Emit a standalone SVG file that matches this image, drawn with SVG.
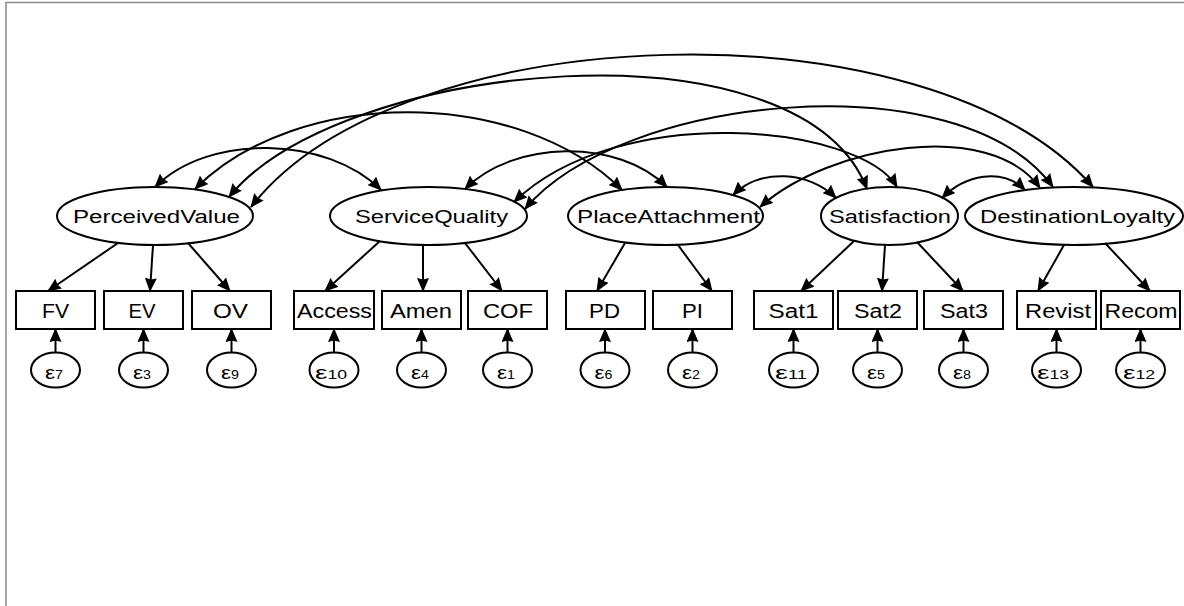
<svg xmlns="http://www.w3.org/2000/svg" width="1184" height="606" viewBox="0 0 1184 606">
  <style>
    .lat ellipse, .obs rect, .err ellipse { fill: #ffffff; stroke: #000000; stroke-width: 2; }
    .lbl { font-family: "Liberation Sans", Arial, sans-serif; fill: #000000; text-anchor: middle; }
    .lat text { font-size: 18px; }
    .obs text { font-size: 20px; }
    .err text { font-size: 19px; }
    .err tspan { font-size: 12px; }
    #connectors path { fill: none; stroke: #000000; stroke-width: 2; }
    .load { marker-end: url(#ah); }
    .cov { marker-start: url(#ah); marker-end: url(#ah); }
    .frame { stroke: #8a8a8a; stroke-width: 1.5; fill: none; }
  </style>
  <defs>
    <marker id="ah" viewBox="0 0 14 12" refX="13" refY="6" markerWidth="14" markerHeight="12" markerUnits="userSpaceOnUse" orient="auto-start-reverse">
      <path d="M0,0 L14,6 L0,12 L1.5,6 z" fill="#000000"/>
    </marker>
  </defs>

  <rect width="1184" height="606" fill="#ffffff"/>
  <path class="frame" d="M6,606 L6,2.5 L1184,2.5"/>

  <!-- latent variables -->
  <g id="PerceivedValue" class="lat">
    <ellipse cx="155" cy="216" rx="98" ry="29"/>
    <text class="lbl" x="156.5" y="223" textLength="167" lengthAdjust="spacingAndGlyphs">PerceivedValue</text>
  </g>
  <g id="ServiceQuality" class="lat">
    <ellipse cx="428.5" cy="216" rx="98.5" ry="29"/>
    <text class="lbl" x="431.5" y="223" textLength="153" lengthAdjust="spacingAndGlyphs">ServiceQuality</text>
  </g>
  <g id="PlaceAttachment" class="lat">
    <ellipse cx="665.5" cy="216" rx="97.5" ry="29"/>
    <text class="lbl" x="668.5" y="223" textLength="183" lengthAdjust="spacingAndGlyphs">PlaceAttachment</text>
  </g>
  <g id="Satisfaction" class="lat">
    <ellipse cx="889.5" cy="216" rx="68.5" ry="29"/>
    <text class="lbl" x="890" y="223" textLength="122" lengthAdjust="spacingAndGlyphs">Satisfaction</text>
  </g>
  <g id="DestinationLoyalty" class="lat">
    <ellipse cx="1074" cy="216" rx="109" ry="29"/>
    <text class="lbl" x="1077.5" y="223" textLength="195" lengthAdjust="spacingAndGlyphs">DestinationLoyalty</text>
  </g>

  <!-- observed indicators -->
  <g id="FV" class="obs"><rect x="16" y="291" width="79" height="38"/><text class="lbl" x="55.5" y="318" textLength="27" lengthAdjust="spacingAndGlyphs">FV</text></g>
  <g id="EV" class="obs"><rect x="104" y="291" width="79" height="38"/><text class="lbl" x="142" y="318" textLength="27" lengthAdjust="spacingAndGlyphs">EV</text></g>
  <g id="OV" class="obs"><rect x="192" y="291" width="79" height="38"/><text class="lbl" x="230.5" y="318" textLength="35" lengthAdjust="spacingAndGlyphs">OV</text></g>
  <g id="Access" class="obs"><rect x="294" y="291" width="80" height="38"/><text class="lbl" x="334.5" y="318" textLength="75" lengthAdjust="spacingAndGlyphs">Access</text></g>
  <g id="Amen" class="obs"><rect x="382" y="291" width="79" height="38"/><text class="lbl" x="421" y="318" textLength="62" lengthAdjust="spacingAndGlyphs">Amen</text></g>
  <g id="COF" class="obs"><rect x="468" y="291" width="79" height="38"/><text class="lbl" x="508" y="318" textLength="50" lengthAdjust="spacingAndGlyphs">COF</text></g>
  <g id="PD" class="obs"><rect x="566" y="291" width="79" height="38"/><text class="lbl" x="604.5" y="318" textLength="31" lengthAdjust="spacingAndGlyphs">PD</text></g>
  <g id="PI" class="obs"><rect x="653" y="291" width="79" height="38"/><text class="lbl" x="692.5" y="318" textLength="21" lengthAdjust="spacingAndGlyphs">PI</text></g>
  <g id="Sat1" class="obs"><rect x="754" y="291" width="79" height="38"/><text class="lbl" x="793.5" y="318" textLength="50" lengthAdjust="spacingAndGlyphs">Sat1</text></g>
  <g id="Sat2" class="obs"><rect x="838" y="291" width="79" height="38"/><text class="lbl" x="878" y="318" textLength="48" lengthAdjust="spacingAndGlyphs">Sat2</text></g>
  <g id="Sat3" class="obs"><rect x="924" y="291" width="79" height="38"/><text class="lbl" x="964" y="318" textLength="48" lengthAdjust="spacingAndGlyphs">Sat3</text></g>
  <g id="Revist" class="obs"><rect x="1017" y="291" width="79" height="38"/><text class="lbl" x="1058" y="318" textLength="66" lengthAdjust="spacingAndGlyphs">Revist</text></g>
  <g id="Recom" class="obs"><rect x="1101" y="291" width="79" height="38"/><text class="lbl" x="1141" y="318" textLength="73" lengthAdjust="spacingAndGlyphs">Recom</text></g>

  <!-- error terms -->
  <g id="e7" class="err"><ellipse cx="55.5" cy="370" rx="24.5" ry="17.5"/><text class="lbl" x="54" y="379" textLength="18" lengthAdjust="spacingAndGlyphs">ε<tspan>7</tspan></text></g>
  <g id="e3" class="err"><ellipse cx="143.5" cy="370" rx="24.5" ry="17.5"/><text class="lbl" x="142" y="379" textLength="18" lengthAdjust="spacingAndGlyphs">ε<tspan>3</tspan></text></g>
  <g id="e9" class="err"><ellipse cx="231.5" cy="370" rx="24.5" ry="17.5"/><text class="lbl" x="230" y="379" textLength="18" lengthAdjust="spacingAndGlyphs">ε<tspan>9</tspan></text></g>
  <g id="e10" class="err"><ellipse cx="334" cy="370" rx="24.5" ry="17.5"/><text class="lbl" x="331" y="379" textLength="32" lengthAdjust="spacingAndGlyphs">ε<tspan>10</tspan></text></g>
  <g id="e4" class="err"><ellipse cx="421.5" cy="370" rx="24.5" ry="17.5"/><text class="lbl" x="420" y="379" textLength="18" lengthAdjust="spacingAndGlyphs">ε<tspan>4</tspan></text></g>
  <g id="e1" class="err"><ellipse cx="507.5" cy="370" rx="24.5" ry="17.5"/><text class="lbl" x="506" y="379" textLength="18" lengthAdjust="spacingAndGlyphs">ε<tspan>1</tspan></text></g>
  <g id="e6" class="err"><ellipse cx="605" cy="370" rx="24.5" ry="17.5"/><text class="lbl" x="603.5" y="379" textLength="18" lengthAdjust="spacingAndGlyphs">ε<tspan>6</tspan></text></g>
  <g id="e2" class="err"><ellipse cx="692.5" cy="370" rx="24.5" ry="17.5"/><text class="lbl" x="691" y="379" textLength="18" lengthAdjust="spacingAndGlyphs">ε<tspan>2</tspan></text></g>
  <g id="e11" class="err"><ellipse cx="793.5" cy="370" rx="24.5" ry="17.5"/><text class="lbl" x="791" y="379" textLength="32" lengthAdjust="spacingAndGlyphs">ε<tspan>11</tspan></text></g>
  <g id="e5" class="err"><ellipse cx="877.5" cy="370" rx="24.5" ry="17.5"/><text class="lbl" x="876" y="379" textLength="18" lengthAdjust="spacingAndGlyphs">ε<tspan>5</tspan></text></g>
  <g id="e8" class="err"><ellipse cx="963.5" cy="370" rx="24.5" ry="17.5"/><text class="lbl" x="962" y="379" textLength="18" lengthAdjust="spacingAndGlyphs">ε<tspan>8</tspan></text></g>
  <g id="e13" class="err"><ellipse cx="1056.5" cy="370" rx="24.5" ry="17.5"/><text class="lbl" x="1053" y="379" textLength="32" lengthAdjust="spacingAndGlyphs">ε<tspan>13</tspan></text></g>
  <g id="e12" class="err"><ellipse cx="1140.5" cy="370" rx="24.5" ry="17.5"/><text class="lbl" x="1139" y="379" textLength="32" lengthAdjust="spacingAndGlyphs">ε<tspan>12</tspan></text></g>

  <g id="connectors">
    <!-- factor loadings -->
    <path class="load" d="M118,243 L48,291"/>
    <path class="load" d="M153,245 L150,291"/>
    <path class="load" d="M188,243 L230,291"/>
    <path class="load" d="M380,241 L325,291"/>
    <path class="load" d="M423,245 L423,291"/>
    <path class="load" d="M465,243 L502,291"/>
    <path class="load" d="M625,243 L597,291"/>
    <path class="load" d="M678,245 L712,291"/>
    <path class="load" d="M854,241 L801,291"/>
    <path class="load" d="M885,245 L882,291"/>
    <path class="load" d="M917,242 L963,291"/>
    <path class="load" d="M1064,245 L1038,291"/>
    <path class="load" d="M1105,243 L1150,291"/>
    <!-- error paths -->
    <path class="load" d="M55.5,352.5 L55.5,329"/>
    <path class="load" d="M143.5,352.5 L143.5,329"/>
    <path class="load" d="M231.5,352.5 L231.5,329"/>
    <path class="load" d="M334,352.5 L334,329"/>
    <path class="load" d="M421.5,352.5 L421.5,329"/>
    <path class="load" d="M507.5,352.5 L507.5,329"/>
    <path class="load" d="M605,352.5 L605,329"/>
    <path class="load" d="M692.5,352.5 L692.5,329"/>
    <path class="load" d="M793.5,352.5 L793.5,329"/>
    <path class="load" d="M877.5,352.5 L877.5,329"/>
    <path class="load" d="M963.5,352.5 L963.5,329"/>
    <path class="load" d="M1056.5,352.5 L1056.5,329"/>
    <path class="load" d="M1140.5,352.5 L1140.5,329"/>
    <!-- covariances among latent variables -->
    <path class="cov" d="M155,187 C209,133 327,136 381,190"/>
    <path class="cov" d="M195,189 C298,86 519,87 622,190"/>
    <path class="cov" d="M229,197 C340,60 800,15 867,189"/>
    <path class="cov" d="M251,207 C400,15 930,0 1093,187"/>
    <path class="cov" d="M465,189 C514,140 618,138 667,187"/>
    <path class="cov" d="M514,202 C620,100 860,125 897,187"/>
    <path class="cov" d="M525,209 C620,95 960,60 1053,187"/>
    <path class="cov" d="M733,195 C760,168 809,171 836,198"/>
    <path class="cov" d="M760,207 C830,145 990,118 1040,188"/>
    <path class="cov" d="M942,198 C965,175 1002,167 1025,190"/>
  </g>
</svg>
